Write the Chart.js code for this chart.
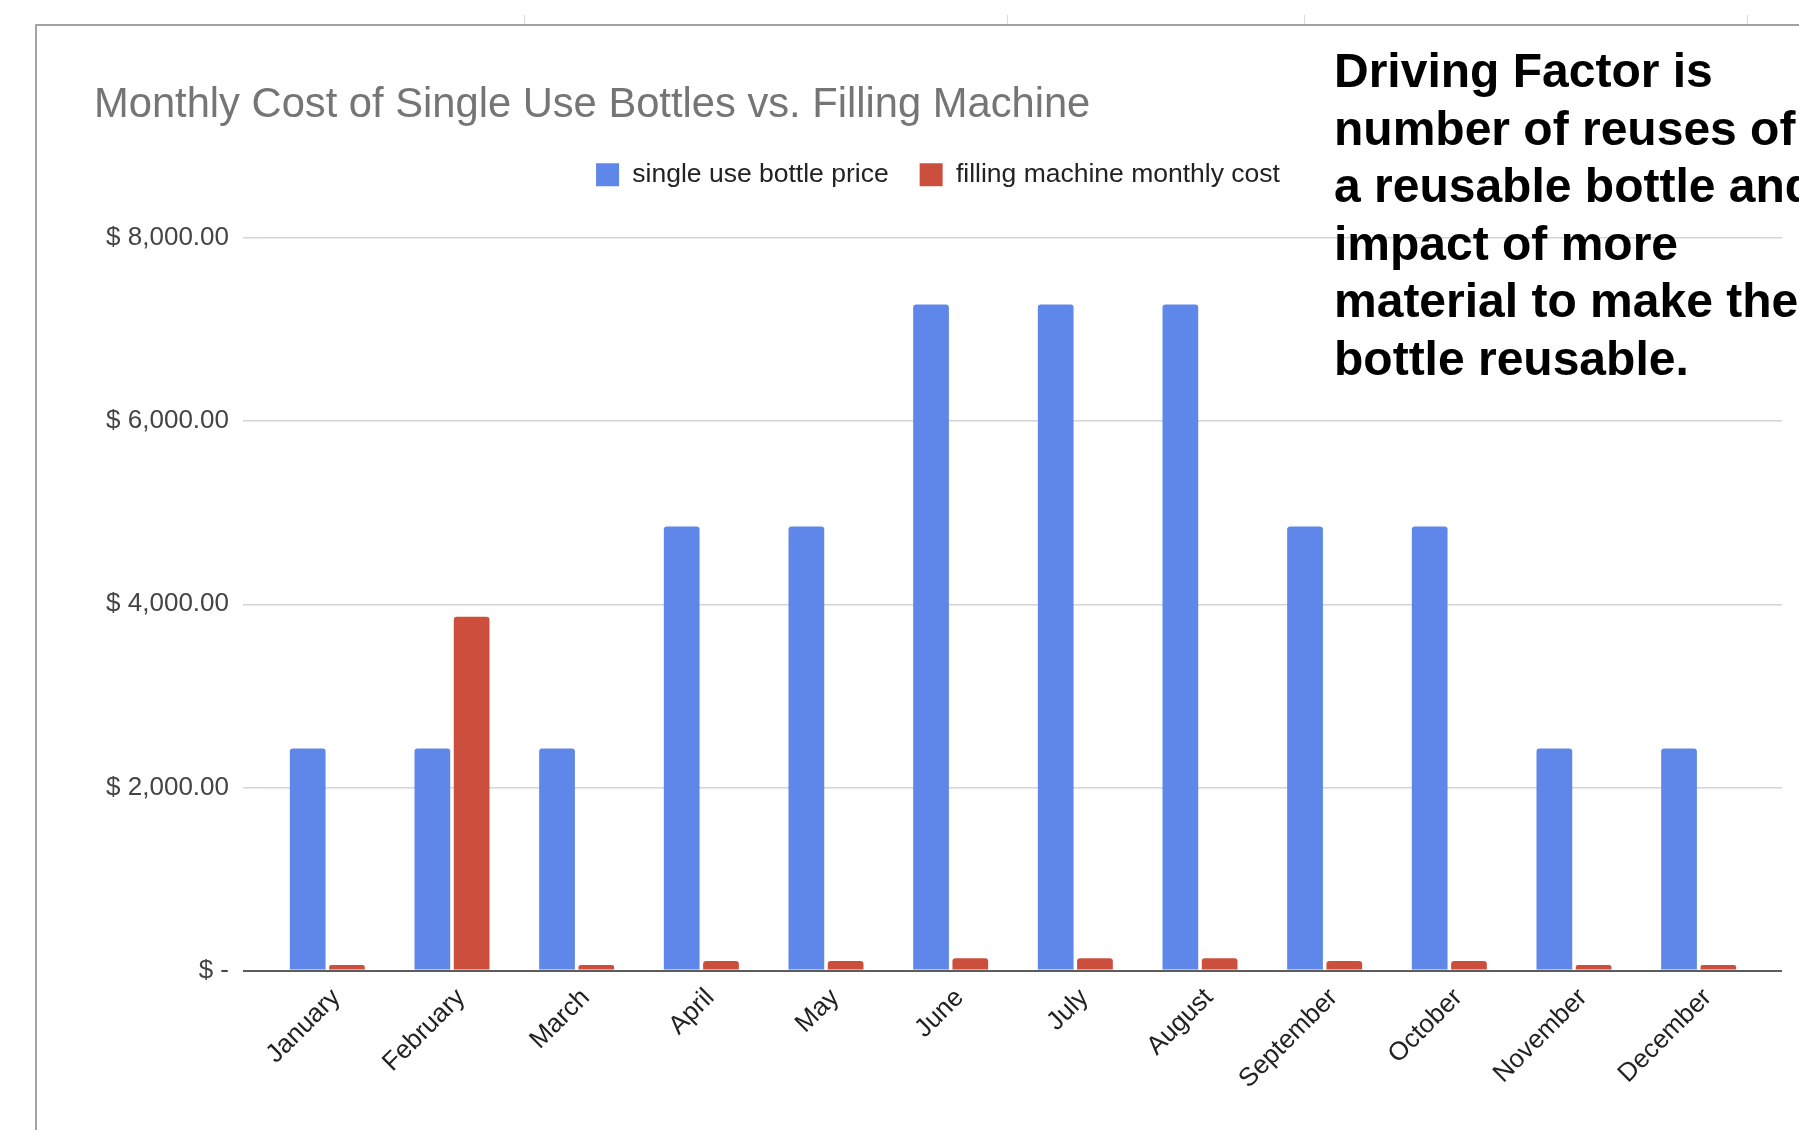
<!DOCTYPE html>
<html>
<head>
<meta charset="utf-8">
<title>Monthly Cost of Single Use Bottles vs. Filling Machine</title>
<script src="https://cdn.jsdelivr.net/npm/chart.js@4.4.1/dist/chart.umd.min.js"></script>
<style>
  html, body { margin: 0; padding: 0; background: #fff; }
  body { width: 1799px; height: 1130px; position: relative; overflow: hidden; font-family: "Liberation Sans", Arial, sans-serif; }
  #frame { position: absolute; left: 35px; top: 24px; right: -10px; bottom: -10px; border-top: 2px solid #a3a3a3; border-left: 2px solid #a3a3a3; }
  .col { position: absolute; top: 15px; height: 10px; width: 1px; background: #dadada; }
  #wrap { position: absolute; left: 0; top: 0; width: 1799px; height: 1130px; }
  #note { position: absolute; left: 1334px; top: 42px; font-weight: bold; font-size: 48px; line-height: 57.5px; color: #000; white-space: nowrap; }
</style>
</head>
<body>
<div class="col" style="left:524px"></div>
<div class="col" style="left:1007px"></div>
<div class="col" style="left:1304px"></div>
<div class="col" style="left:1747px"></div>
<div id="frame"></div>
<div id="wrap"><canvas id="chart"></canvas></div>
<div id="note">Driving Factor is<br>number of reuses of<br>a reusable bottle and<br>impact of more<br>material to make the<br>bottle reusable.</div>

<script>
// values
const months = ['January', 'February', 'March', 'April', 'May', 'June', 'July', 'August', 'September', 'October', 'November', 'December'];
const singleUse = [2425, 2425, 2425, 4850, 4850, 7275, 7275, 7275, 4850, 4850, 2425, 2425];
const machine = [60, 3865, 60, 105, 105, 135, 135, 135, 105, 105, 60, 60];
const yTicks = [0, 2000, 4000, 6000, 8000];

Chart.defaults.font.family = '"Liberation Sans", Arial, sans-serif';

function money(v) {
  if (v === 0) return '$ -';
  return '$ ' + v.toLocaleString('en-US', { minimumFractionDigits: 2, maximumFractionDigits: 2 });
}

const gridColor = c => (c.tick && c.tick.value === 0) ? '#5c5c5c' : '#d4d4d4';
const gridWidth = c => (c.tick && c.tick.value === 0) ? 2 : 1.5;
const setTicks = s => { s.ticks = yTicks.map(v => ({ value: v })); };

const ctx = document.getElementById('chart');
new Chart(ctx, {
  type: 'bar',
  data: {
    labels: months,
    datasets: [{
      label: 'single use bottle price',
      data: singleUse,
      backgroundColor: '#5f87e9',
      borderWidth: 0,
      borderRadius: 3,
      categoryPercentage: 0.63,
      barPercentage: 0.91
    }, {
      label: 'filling machine monthly cost',
      data: machine,
      backgroundColor: '#cc4f3d',
      borderWidth: 0,
      borderRadius: 3,
      categoryPercentage: 0.63,
      barPercentage: 0.91
    }]
  },
  options: {
    responsive: true,
    maintainAspectRatio: false,
    animation: false,
    layout: { padding: { left: 94, right: 17, top: 0, bottom: 0 } },
    plugins: {
      title: {
        display: true,
        text: 'Monthly Cost of Single Use Bottles vs. Filling Machine',
        align: 'start',
        color: '#757575',
        font: { size: 41.7, weight: 'normal' },
        padding: { top: 80.5, bottom: 0 }
      },
      legend: {
        position: 'top',
        align: 'center',
        labels: { boxWidth: 23, boxHeight: 23, padding: 31, color: '#222', font: { size: 26.5 } }
      },
      tooltip: { enabled: false }
    },
    scales: {
      x: {
        position: 'bottom',
        offset: true,
        grid: { display: false, drawTicks: false },
        border: { display: false },
        ticks: { color: '#222', font: { size: 26 }, minRotation: 45, maxRotation: 45, padding: 12, labelOffset: 9, autoSkip: false },
        afterFit: s => { s.height = 1130 - 970.6; }
      },
      xTop: {
        type: 'category',
        position: 'top',
        grid: { display: false, drawTicks: false },
        border: { display: false },
        ticks: { display: false },
        afterFit: s => { s.height = 40; }
      },
      y: {
        position: 'left',
        min: 0,
        max: 8000,
        afterBuildTicks: setTicks,
        grid: { color: gridColor, lineWidth: gridWidth, tickLength: 22 },
        border: { display: false },
        ticks: { color: '#444', font: { size: 26 }, padding: 14, callback: v => money(v) },
        afterFit: s => { s.width = 171; }
      },
      yR: {
        position: 'right',
        min: 0,
        max: 8000,
        afterBuildTicks: setTicks,
        grid: { drawOnChartArea: false, color: gridColor, lineWidth: gridWidth, tickLength: 21 },
        border: { display: false },
        ticks: { padding: 0, callback: () => '' },
        afterFit: s => { s.width = 21; }
      }
    }
  }
});
</script>
</body>
</html>
